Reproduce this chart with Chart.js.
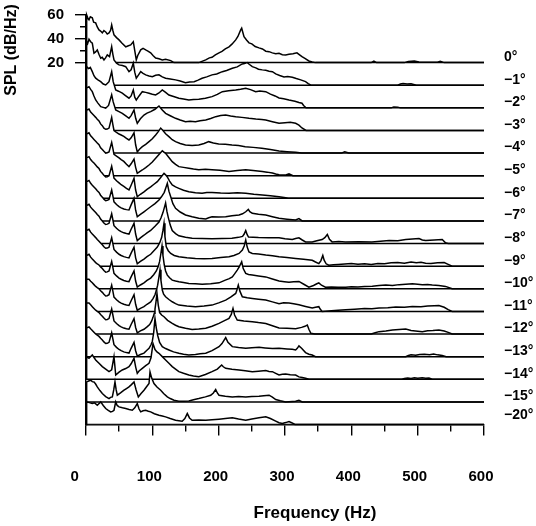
<!DOCTYPE html>
<html>
<head>
<meta charset="utf-8">
<script src="https://cdn.jsdelivr.net/npm/chart.js@4.4.1/dist/chart.umd.min.js"></script>
<style>
  html, body { margin: 0; padding: 0; background: #fff; }
  #chart { display: block; }
</style>
</head>
<body>
<canvas id="chart" width="536" height="526"></canvas>
<script>
// angle of each spectrum, top (back) to bottom (front)
const angleLabels = ['0°', '−1°', '−2°', '−3°', '−4°', '−5°', '−6°', '−7°', '−8°',
  '−9°', '−10°', '−11°', '−12°', '−13°', '−14°', '−15°', '−20°'];

const xTicks = [0, 50, 100, 150, 200, 250, 300, 350, 400, 450, 500, 550, 600];
const yTicks = [20, 30, 40, 50, 60];

// spectra: [frequency Hz, SPL dB/Hz], floor of every trace is 20 dB
const spl0 = [[0,20],[1,60],[3,57],[4.5,56],[6.5,58.5],[9.5,57.6],[11.5,54],[14.6,53.4],[17,50],[19.6,47.5],[22,46.5],[24.6,45],[27,47],[29.7,45.8],[32,44],[34.7,45],[37,47],[38.7,51.7],[40.5,47],[42.2,43.3],[46,41],[49.8,39.1],[54,36.5],[59.9,33.2],[63,34],[67.4,34.9],[71.3,37.6],[73.5,30],[75.8,22.3],[78,26],[82.5,30.7],[86,32],[90,30.7],[94,29.5],[97.5,28.2],[101,26],[105,23.9],[110,23.2],[115,22.3],[120,22.8],[127.7,21.7],[132.7,20],[170,20],[180.5,22.3],[186,24],[190,24.5],[195,26.5],[200.5,28.2],[205,29.5],[210,31.6],[215.6,33.2],[220,35.5],[225.7,39.1],[229,42],[233.2,47.5],[234.7,48.9],[238.2,41.8],[242,39],[245.7,36.6],[250,35.8],[255,33.5],[260.8,32.4],[266,31.5],[271,29.6],[276,29.2],[280.9,28.2],[286,27.5],[291,27.8],[296,26.6],[301,26.5],[306,27],[312,27.5],[318,28.2],[322,26.5],[325.6,25],[330,23.5],[336,21.4],[341,20.6],[346,20],[430,20],[434,21.2],[438,20],[480,20],[486,21],[495,21.3],[502,20.5],[530,20.4],[534,21.2],[540,20],[600,20]];
const spl1 = [[0,20],[1,56.6],[2.5,55],[4.5,58.6],[7,56.5],[9.5,55.3],[12,46.9],[14.5,48],[17,49.7],[19.5,46],[22.2,42.7],[24.5,43.5],[27.1,41.3],[29.5,43],[32.1,45.5],[35.5,44],[38.7,52.4],[40.5,46],[42.2,41.3],[46,38.5],[49.8,37.1],[55,36.5],[59.9,35.6],[64.8,31.4],[68,33],[71.3,38.5],[73.5,31],[75.8,25.9],[79,28.5],[82.5,31.4],[86,30],[90,28.7],[95,27.8],[100,27.2],[105,28.3],[110,28.7],[115,27],[120,25.9],[127,25.3],[135,24.5],[142,23.5],[150,22.2],[156,22.8],[163,23],[169,24.3],[175,25.9],[182,27],[190,28.7],[197,29.5],[205.5,31.4],[212,32.4],[220.6,34.3],[228,35.4],[235.6,37.9],[239,38.3],[243,39],[246,37.6],[250.7,35.6],[256,34.6],[260,33.4],[265.8,32.9],[271,32.6],[276,31.8],[281,31.4],[286,29.5],[292,28.2],[298.5,27],[304,27.3],[311,26.7],[317,25.6],[323.7,24.5],[331,23],[335,21.4],[339,20],[470,20],[474,21],[478,21.5],[484,21],[490,21.2],[494,20.6],[498,20],[600,20]];
const spl2 = [[0,20],[1,54.6],[4,53],[6.5,54],[9.5,50.4],[12,47],[14.6,44.9],[18,43.5],[22.2,42],[26,40],[29.7,39.2],[32,40.5],[34.7,42],[38.7,50.4],[41,42],[44.8,35],[49,34],[54.7,32.3],[59,30.5],[64.8,28.1],[68,30],[71.3,35],[73.5,29],[75.8,26.6],[80,30],[84.9,33.6],[90,33],[95,32.3],[100,31.5],[105,30.8],[110,32.5],[115,35],[120,33],[125,30.8],[132,29.5],[140,28.1],[147,27.5],[155,26.6],[162,27],[170,27.2],[180,28],[190,29.4],[198,31.3],[205.5,33.6],[215,34.3],[225.7,35],[233,35.6],[240.8,36.5],[248,35.3],[255.8,33.6],[262,34.2],[271,33.6],[278,31.5],[285,30],[291,28.3],[298,27.6],[306,26.6],[315,25.6],[321,24.5],[325.6,23.9],[328,22],[331.7,20],[460,20],[464,20.8],[470,20.6],[474,20],[600,20]];
const spl3 = [[0,20],[1,55.7],[4.5,56.8],[7,54.5],[9.5,52.6],[12,49],[14.6,45.6],[18,43],[22.2,40],[26,39.4],[29.7,38.7],[34,41],[38.7,50],[41,44],[44.8,37.2],[49,36],[54.7,34.4],[60,32.2],[64.8,30.2],[68,32.5],[72.4,37.2],[75,30],[77.3,26],[82,29.8],[87.4,33],[92,34.6],[97.5,35.8],[104,37.8],[110,40.6],[115,37.2],[120,34.4],[127,32.4],[135,30.2],[142,28.8],[150,27.4],[157,27.8],[165,27.4],[172,28.2],[180.5,28.8],[188,30],[195.5,31.6],[203,32.6],[210.6,33],[218,32.2],[225.7,31.6],[235,31],[245.7,30.2],[256,29.6],[265,29.2],[271,28.8],[281,27.4],[291,26],[300,26.5],[308,26.8],[316,26],[321,24.5],[325.6,22.1],[331.7,20],[600,20]];
const spl4 = [[0,20],[1,56],[4.5,57],[7,54.5],[9.5,53],[12,51.5],[14.6,50],[17,48.5],[19.6,47],[22,44.5],[24.6,43],[27,41],[29.7,40],[32,40.2],[34.7,41],[38.7,50],[40.5,44],[42.2,39],[46,37.3],[49.8,36],[53,35.2],[57,34],[61,32.3],[64.8,31],[68,32.8],[72.4,37],[74.8,27],[77.3,21],[81,23.5],[84.9,25.4],[90,27.3],[95,29.6],[100,32],[105,35.2],[109,38],[112.6,41],[116,39],[120,36.3],[125,33.8],[130,31.2],[135,29.6],[142,28],[150,26.8],[160,26.4],[170,26.8],[178,28],[185,29.6],[192,28.5],[200,27.6],[210,27.4],[220,26.8],[230,26.4],[240,25.4],[252,24.8],[265,24],[278,23],[291,21.8],[303,21.2],[316,20.7],[325,20],[385,20],[390,21],[396,20],[600,20]];
const spl5 = [[0,20],[1,55],[4.5,56],[7,53.5],[9.5,52],[12,50.5],[14.6,49],[17,47.5],[19.6,46],[22,43.5],[24.6,42],[27,40.5],[29.7,39],[32,39.3],[34.7,40],[38.7,48],[40.5,43],[42.2,38],[46,36.4],[49.8,35],[53,33.5],[57,32],[61,29.6],[64.8,27.6],[68,30],[72.4,34],[74.8,27],[77.3,22],[81,23.4],[84.9,24.8],[90,26.8],[95,29],[100,31.5],[105,34.6],[110,37.8],[115,41],[117,40],[120,38.8],[125,35.3],[130,31.8],[135,29.5],[140,27.6],[147,27],[155,26.3],[162,25.6],[170,25],[180,25.4],[190,25],[202,24.6],[215.6,23.6],[228,24.3],[240.8,25],[252,24.4],[265.8,23.6],[273,23],[281,22.2],[286,21.4],[291,20.8],[300,20.5],[306,21.5],[312,20],[600,20]];
const spl6 = [[0,20],[1,54],[4.5,55],[7,52.6],[9.5,51],[12,49.6],[14.6,48],[17,46.4],[19.6,45],[22,42.6],[24.6,41],[27,39.3],[29.7,38],[32,38.2],[34.7,39],[38.7,47],[40.5,42],[42.2,37],[46,34.8],[49.8,33],[53,31.4],[57,30],[61,28.3],[64.8,27],[68,31],[72.4,36.8],[74.8,27],[77.3,21.3],[82,23.4],[87.4,25.5],[92,27.5],[97.5,29.7],[102,31.6],[107.5,34],[112,37],[117.6,41],[120,39.7],[122.6,38],[126,34.5],[130,31.2],[135,29.6],[140,28.4],[147,26.8],[155,25.5],[165,24.7],[175,24.2],[182,24.9],[190,24.8],[203,24.4],[215.6,24.2],[228,24.6],[240.8,24.2],[253,23.4],[265.8,22.8],[278,22.1],[291,21.4],[301,20.5],[305,20],[600,20]];
const spl7 = [[0,20],[1,53],[4.5,54],[7,51.6],[9.5,50],[12,48.6],[14.6,47],[17,45.4],[19.6,44],[22,41.6],[24.6,40],[27,38.2],[29.7,37],[32,37.3],[34.7,38],[38.7,46],[40.5,41],[42.2,36],[46,33.8],[49.8,32],[53,31],[57,30],[61,29.5],[64.8,29.2],[68,33.5],[72.4,39],[74.8,29],[77.3,23.5],[82,25.5],[87.4,27.7],[92,29.6],[97.5,31.9],[104,34.6],[110,37.6],[114,40.5],[118,44],[120.5,48],[122.6,51.6],[125,45],[127.7,40.3],[131,34.5],[135,30.6],[142,27.5],[150,25],[160,23.5],[170,22.2],[180.5,21.7],[185,22.7],[190,23.5],[200,23.4],[210.6,23.5],[220,24.4],[230.7,25],[236,26],[240.8,27.7],[244.7,29.7],[247,27.8],[250.7,26.4],[260,25.6],[271,25],[281,23.6],[291,22.2],[303,21.5],[316,20.8],[321,22],[326,20],[600,20]];
const spl8 = [[0,20],[1,52],[4.5,53],[7,50.6],[9.5,49],[12,47.6],[14.6,46],[17,44.4],[19.6,43],[22,40.6],[24.6,39],[27,37.3],[29.7,36],[32,36.3],[34.7,37],[38.7,45],[40.5,40],[42.2,35],[46,32.8],[49.8,31],[53,30],[57,29],[61,28.4],[64.8,28],[68,32],[72.4,37],[74.8,28],[77.3,22.5],[82,24.8],[87.4,27],[92,29],[97.5,31],[104,34.5],[110,38],[113,41.5],[116,46],[118,50],[120,54],[122,47],[124,42],[127,35.5],[130,31],[135,28.4],[140,26.5],[150,25.3],[160,24.5],[175,24.3],[190,24],[205,24.2],[220,24.5],[230,25.2],[236,26],[238.5,28],[240.8,31],[243,27.5],[245,25.5],[252,25.4],[260,25],[275,24.9],[291,24.8],[300,24],[311,23.4],[316,24.2],[321,24.8],[326,23],[331,21.4],[341,21.4],[348,22.4],[356,23.4],[360,25],[363.8,27.6],[367,23.5],[371,21.4],[381,21.8],[391,21.4],[411,21.6],[431,21.4],[444,22],[457,22.5],[470,22.4],[482,23.4],[492,23.8],[502,24.2],[507,23],[512,22.5],[525,23],[537,23.4],[542,20.6],[546,20],[600,20]];
const spl9 = [[0,20],[1,50],[4.5,51],[7,48.6],[9.5,47],[12,45.5],[14.6,44],[17,42.4],[19.6,41],[22,39.4],[24.6,38],[27,36.3],[29.7,35],[32,35.2],[34.7,36],[38.7,44],[40.5,39],[42.2,34],[46,31.8],[49.8,30],[53,29],[57,28],[61,27.4],[64.8,27],[68,31],[72.4,36],[74.8,27],[77.3,22],[82,24],[87.4,26],[92,28],[97.5,30],[102,32.8],[107.5,36],[111,39.5],[114,44],[116,50],[117.6,56],[119,45],[121,36.3],[124,33],[127.7,30.7],[133,29],[140,27.9],[152,27.1],[165,26.5],[178,26.2],[190,26.5],[203,27.2],[215.6,27.9],[223,29],[230.7,30.7],[235.7,33.5],[238.5,37],[240.8,42],[243,36],[245.7,32],[250.7,30.7],[260,30.2],[271,29.3],[281,28.8],[291,27.9],[303,27.3],[316,26.5],[328,25.8],[341,25],[346,23.5],[351,22.2],[354,24.5],[357,29],[359,25],[362,22],[366,20.8],[373,21.2],[380,21.5],[390,21.9],[400,22.2],[410,21.6],[420,22],[430,21.5],[440,22.3],[450,22],[460,22.8],[470,23],[480,22.5],[490,23.6],[498,22.8],[505,23.3],[512,22.5],[520,22.2],[530,22.8],[540,23],[546,21.5],[552,20],[600,20]];
const spl10 = [[0,20],[1,48],[4.5,49],[7,46.6],[9.5,45],[12,43.5],[14.6,42],[17,41],[19.6,40],[22,38.4],[24.6,37],[27,35.3],[29.7,34],[32,34.2],[34.7,35],[38.7,43],[40.5,38],[42.2,33],[46,30.8],[49.8,29],[53,28],[57,27],[61,26.4],[64.8,26],[68,30],[72.4,35],[74.8,26.5],[77.3,21.5],[82,23.2],[87.4,25],[92,27],[97.5,29],[102,31.8],[106,35],[109,39],[111,43],[113,50],[114.6,56],[116,48],[118,40],[120,35],[122.6,31.5],[126,29.2],[130,27.3],[135,26.5],[140,25.9],[147,25.3],[155,24.5],[165,24.2],[175,23.9],[188,24.3],[200.5,25],[210,27.3],[216,28.5],[220.6,30],[224,32.5],[228,35.7],[231,38.5],[234.7,42.7],[237,37],[240.8,32.9],[245,32],[250.7,31.5],[260,30.8],[271,30],[281,28.2],[291,26.5],[299,26],[306,25.6],[313,26],[321,26.2],[329,23.6],[336,21.4],[343,22.8],[348,24.2],[351,25],[355,23],[361,21.4],[370,21.6],[380,21.2],[391.5,21.4],[400,21.8],[410,21.6],[420,22],[431.6,22.2],[441.7,22.8],[452,23.2],[462,22.8],[472,23.5],[482,23.8],[492,24.2],[500,23.8],[507,23.4],[515,23.6],[522,23.2],[532,22.8],[542,22],[552,20],[600,20]];
const spl11 = [[0,20],[1,47],[4.5,47],[7,45.4],[9.5,44],[12,42.5],[14.6,41],[17,40],[19.6,39],[22,37.4],[24.6,36],[27,34.4],[29.7,33],[32,33.2],[34.7,34],[38.7,42],[40.5,37],[42.2,32],[46,29.8],[49.8,28],[53,27],[57,26],[61,25.4],[64.8,25],[68,29],[72.4,34],[74.8,26],[77.3,21],[82,22.6],[87.4,24],[92,26],[97.5,28],[101,30.8],[104,34],[106,37.5],[108,42],[110,49],[111.6,55],[113,46],[115,38],[117,34.5],[120,32.3],[125,30],[130,28.1],[135,26.6],[140,25.3],[152,24.5],[165,23.9],[178,24.5],[190,25.3],[200,27.2],[210.6,29.5],[218,32],[225.7,35.1],[227.5,38],[229.6,42.1],[232,37],[235.7,32.3],[243,31.5],[250.7,30.9],[260,30.2],[271,29.5],[281,28],[291,26.5],[298,27.2],[306,27],[313,26.4],[321,25.6],[331,24.2],[341,22.8],[346,23.5],[351,24],[353,22],[356,20],[370,20.6],[380,21],[391.5,21.4],[405,21.8],[420,22.4],[431,22.2],[441.7,22.8],[455,23],[467,23.6],[480,23.4],[492,24.2],[505,24],[515,24.6],[525,24.8],[532,25],[540,23.5],[546,21.5],[552,20],[600,20]];
const spl12 = [[0,20],[1,46],[4.5,46],[7,44.5],[9.5,43],[12,41.5],[14.6,40],[17,39],[19.6,38],[22,36.4],[24.6,35],[27,33.4],[29.7,32],[32,32.2],[34.7,33],[38.7,41],[40.5,36],[42.2,31],[46,28.8],[49.8,27],[53,26],[57,25],[61,24.4],[64.8,24],[68,28],[72.4,33],[74.8,25.5],[77.3,21],[82,22.6],[87.4,24],[92,26],[96,28],[99,31],[101,34],[103,37.5],[104,41],[105.5,47],[107,54],[109,44],[111,38],[114,36],[117.6,34.5],[123,31.5],[130,28.9],[135,27.4],[140,26.1],[150,24.8],[160,23.9],[170,24.2],[180.5,24.8],[190,26.5],[200.5,28.9],[208,31],[215.6,33.1],[219,36.5],[221.6,41.5],[224,36],[228,31.8],[238,31],[250.7,30.4],[260,29.6],[271,28.9],[281,27],[291,25],[303,24.8],[316,24.5],[325,25.6],[330,26.5],[333.6,27.6],[336,24],[339,20.6],[345,20],[430,20],[436,21],[441.7,22],[452,22.6],[462,23.4],[472,23.8],[482,24.2],[490,23],[500,22.4],[507,22],[515,22.8],[523,23],[532,23.4],[540,22.5],[546,21.4],[552,20],[600,20]];
const spl13 = [[0,20],[1,44],[4.5,45],[7,43.4],[9.5,42],[12,40.5],[14.6,39],[17,38],[19.6,37],[22,35.4],[24.6,34],[27,32.4],[29.7,31],[32,31.2],[34.7,32],[38.7,40],[40.5,35],[42.2,30],[46,27.8],[49.8,26],[53,25],[57,24],[61,23.4],[64.8,23],[68,27],[72.4,32],[74.8,25],[77.3,20.5],[82,21.8],[87.4,23],[91,25],[95,27],[98,30],[100,33],[102,40],[104,52],[106,44],[108,38],[111,32],[115,28.4],[120,26.8],[125,25.6],[132,24],[140,22.8],[147,22],[155,21.4],[165,21.8],[172,22.4],[180.5,22.8],[190,25],[200.5,28.4],[205,31],[210.6,36],[214,32],[220.6,28.4],[230,27.6],[240.8,27],[250,27.5],[261,27.8],[270,27.3],[281,26.8],[291,27],[303,26.5],[311,26.2],[316,25.6],[318.5,27],[321,29],[325,27],[331,23.4],[336,22],[341,21.4],[346,20],[482,20],[486,21],[490,21.5],[497,21.1],[503,21.8],[510,22],[518,21.6],[524,22.2],[530,21.5],[537,21],[543,20],[600,20]];
const spl14 = [[0,20],[1,39],[4.5,37.6],[9.5,40.4],[14.6,36.2],[19.6,33.4],[24.6,30.6],[29.7,28.5],[34.7,26.4],[38.7,28],[42.2,39],[44.8,23.6],[49.8,26],[54.7,27.8],[59.9,29],[64.8,30.6],[68,33],[72.4,37.6],[75,30],[77.3,25],[80,27],[84.9,29.2],[90,31.5],[95,33.4],[98,38],[101,50],[104,45],[107,43],[110,41.8],[115,39],[120,36.2],[125,33.4],[130,30.6],[135,28.5],[140,26.4],[147,25],[155,23.6],[162,22.8],[170,22.2],[180,24],[190,26.4],[198,28.5],[204.5,32],[207,30.5],[210.6,29.2],[220,28.4],[230.7,27.8],[240,27.2],[250.7,26.4],[260,26.8],[271,27.3],[276,26.6],[281,26.4],[286,25],[291,23.6],[296,24.2],[301,24.4],[308,23.8],[316,23.6],[321,22],[326,21.5],[331,20.8],[336,20],[476,20],[480,20.6],[485,21],[490,20.7],[495,21.2],[500,20.8],[507,21.2],[512,20.9],[517,21],[522,20],[600,20]];
const spl15 = [[0,20],[1,36.8],[4,37.5],[7,38.2],[9.5,37],[12,36.8],[14.5,35],[17,32.6],[21,29.5],[24.6,27],[29.7,24.5],[34.7,22.8],[37,23.8],[39.7,24.2],[41.8,30],[43.7,36.8],[45.5,30],[47.2,25.6],[52,27.5],[57.3,29.8],[61,31.2],[64.8,32.6],[68.5,34.5],[72.4,36.8],[75.6,30],[78.9,24.2],[83,27],[87.4,29.8],[91,32.5],[95,35.4],[96.5,45.2],[99,40],[102.5,35.4],[107,32.5],[112.6,29.8],[117,27],[122.6,24.2],[127,22.8],[132.7,21.4],[140,20.6],[147,20.5],[155,20.8],[162,21.8],[170,22.8],[180,24.2],[188,25.6],[192,27.5],[195.5,30.4],[198,27.5],[200.5,25.6],[210,24.8],[220.6,24.2],[230,24.5],[240.8,24.2],[250,24.6],[260.8,24.8],[268,25.2],[276,25.6],[281,24],[286,22],[293,21],[301,20],[316,20.5],[321,21.4],[326,20],[600,20]];
const spl20 = [[0,20],[1,39],[5,38.4],[9.5,37.6],[13,38.2],[17,36.2],[22.2,39],[26,36],[29.7,33.4],[33,32],[37.2,30.6],[40,31],[42.2,32],[44.8,39],[47,36],[49.8,34.8],[55,34],[59.9,33.4],[65,32.6],[69.8,32],[73.5,34],[77.3,37.6],[80,33],[82.5,30.6],[86,31.5],[90,32],[94,31.2],[97.5,30.6],[103,29],[110,27.8],[115,27.2],[120,26.4],[127,25],[135,23.6],[140,23.2],[145,22.8],[149,25],[152.7,29.2],[156,25.5],[160,23.6],[170,23.8],[180.5,23.6],[190,24],[200.5,24.5],[210,25],[220.6,25.6],[230,24.6],[240.8,23.6],[250,24.6],[260.8,25.6],[266,26],[271,26.4],[278,25],[286,22.8],[291,21.5],[296,20.8],[301,21.6],[306,22.5],[310,21.5],[315,20],[600,20]];

const spectra = [spl0, spl1, spl2, spl3, spl4, spl5, spl6, spl7, spl8,
  spl9, spl10, spl11, spl12, spl13, spl14, spl15, spl20];

// each spectrum sits 19 dB below the one behind it
const OFFSET = 19;
const FLOOR = 20;
const Y_MAX = 60;
const Y_MIN = FLOOR - (spectra.length - 1) * OFFSET;
// labels on the right sit a little above their own baseline
const labelLift = spectra.map((s, k) => k === spectra.length - 1 ? 7.8 : 4.6);

const datasets = [];
spectra.forEach((spec, k) => {
  const base = FLOOR - k * OFFSET;
  // spectrum, filled white down to its baseline so it hides the traces behind
  datasets.push({
    data: spec.map(p => ({x: p[0], y: p[1] - k * OFFSET})),
    borderColor: '#000',
    borderWidth: 1.5,
    backgroundColor: '#fff',
    fill: {value: base},
    pointRadius: 0,
    tension: 0,
    clip: false,
    order: 100 - 2 * k
  });
  // its baseline
  datasets.push({
    data: [{x: 0, y: base}, {x: 600, y: base}],
    borderColor: '#000',
    borderWidth: 1.5,
    pointRadius: 0,
    fill: false,
    order: 99 - 2 * k
  });
});

const boldFont = size => ({family: '"Liberation Sans", Arial, sans-serif', size: size, weight: 'bold'});
const noPadding = s => { s.paddingTop = 0; s.paddingBottom = 0; s.paddingLeft = 0; s.paddingRight = 0; };

const axisTitles = {
  id: 'axisTitles',
  afterDraw(chart) {
    const ctx = chart.ctx;
    ctx.save();
    ctx.fillStyle = '#000';
    ctx.textAlign = 'center';
    ctx.textBaseline = 'middle';
    ctx.font = 'bold 16px "Liberation Sans", Arial, sans-serif';
    ctx.translate(12, 50);
    ctx.rotate(-Math.PI / 2);
    ctx.fillText('SPL (dB/Hz)', 0, 0);
    ctx.restore();
    ctx.save();
    ctx.fillStyle = '#000';
    ctx.textAlign = 'center';
    ctx.textBaseline = 'middle';
    ctx.font = 'bold 17px "Liberation Sans", Arial, sans-serif';
    ctx.fillText('Frequency (Hz)', 315, 513);
    ctx.restore();
  }
};

new Chart(document.getElementById('chart'), {
  type: 'line',
  data: {datasets: datasets},
  options: {
    responsive: false,
    animation: false,
    events: [],
    layout: {padding: {left: 0, top: 15, right: 0, bottom: 0}},
    plugins: {legend: {display: false}, tooltip: {enabled: false}},
    scales: {
      x: {
        type: 'linear', min: 0, max: 600,
        position: 'bottom',
        afterBuildTicks: s => { s.ticks = xTicks.map(v => ({value: v})); },
        afterFit: s => { s.height = 101.5; noPadding(s); },
        grid: {
          drawOnChartArea: false, tickLength: 11, color: '#000', lineWidth: 1.4,
          tickBorderDash: c => (c.tick && c.tick.value % 100 !== 0) ? [6, 100] : []
        },
        border: {color: '#000', width: 1.4},
        ticks: {
          autoSkip: false, maxRotation: 0, color: '#000', font: boldFont(15),
          padding: 32, labelOffset: -3,
          callback: v => v % 100 !== 0 ? '' : (v === 0 ? '0    ' : String(v))
        }
      },
      y: {
        type: 'linear', min: Y_MIN, max: Y_MAX,
        position: 'left',
        afterBuildTicks: s => { s.ticks = yTicks.map(v => ({value: v})); },
        afterFit: s => { s.width = 86; noPadding(s); },
        grid: {
          drawOnChartArea: false, tickLength: 11, color: '#000', lineWidth: 1.4,
          tickBorderDash: c => (c.tick && c.tick.value % 20 !== 0) ? [0, 5, 6, 100] : []
        },
        border: {color: '#000', width: 1.4},
        ticks: {
          color: '#000', font: boldFont(15), padding: 11,
          callback: v => v % 20 === 0 ? String(v) : ''
        }
      },
      angle: {
        type: 'linear', min: Y_MIN, max: Y_MAX,
        position: 'right',
        afterBuildTicks: s => {
          s.ticks = angleLabels.map((a, k) => ({value: FLOOR - k * OFFSET + labelLift[k]}));
        },
        afterFit: s => { s.width = 52; noPadding(s); },
        grid: {display: false},
        border: {display: false},
        ticks: {
          color: '#000', font: boldFont(14), padding: 12,
          callback: (v, i) => angleLabels[i]
        }
      }
    }
  },
  plugins: [axisTitles]
});
</script>
</body>
</html>
